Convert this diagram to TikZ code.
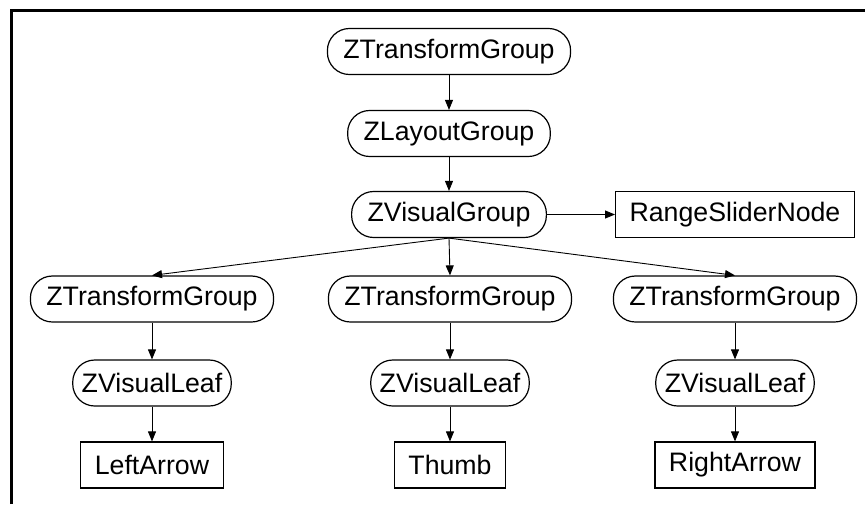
\documentclass[tikz,border=0pt]{standalone}
\usepackage{fontspec}
\setmainfont{Liberation Sans}
\usetikzlibrary{arrows.meta}
\tikzset{
	grp/.style={draw,rounded corners=22pt,minimum height=46pt,inner xsep=16pt,line width=1.2pt},
	leaf/.style={grp,inner xsep=9pt},
	obj/.style={draw,rectangle,minimum height=46pt,inner xsep=14pt,line width=1.2pt},
	link/.style={-{Triangle[length=10pt,width=8pt]},line width=0.9pt}
}
\begin{document}
\begin{tikzpicture}[x=1pt,y=-1pt,font=\fontsize{26.7}{32}\selectfont]
		\useasboundingbox (0,0) rectangle (865,504);
		\draw[line width=2.7pt] (11.3,504) -- (11.3,10.3) -- (865,10.3);
		\node[grp](tg) at (449,51.5){ZTransformGroup};
		\node[grp](lg) at (449,133.5){ZLayoutGroup};
		\node[grp](vg) at (449,214.5){ZVisualGroup};
		\node[obj](rs) at (735,214.5){RangeSliderNode};
		\node[grp](tg1) at (152,299){ZTransformGroup};
		\node[grp](tg2) at (450,299){ZTransformGroup};
		\node[grp](tg3) at (735,299){ZTransformGroup};
		\node[leaf](vl1) at (152,383){ZVisualLeaf};
		\node[leaf](vl2) at (450,383){ZVisualLeaf};
		\node[leaf](vl3) at (735,383){ZVisualLeaf};
		\node[obj](la) at (152,465){LeftArrow};
		\node[obj](th) at (450,465){Thumb};
		\node[obj](ra) at (735,465){RightArrow};
		\draw[link](tg)--(lg);
		\draw[link](lg)--(vg);
		\draw[link](vg)--(rs);
		\draw[link](vg.south)--(tg1.north);
		\draw[link](vg.south)--(tg2.north);
		\draw[link](vg.south)--(tg3.north);
		\draw[link](tg1)--(vl1);
		\draw[link](tg2)--(vl2);
		\draw[link](tg3)--(vl3);
		\draw[link](vl1)--(la);
		\draw[link](vl2)--(th);
		\draw[link](vl3)--(ra);
	\end{tikzpicture}
\end{document}
